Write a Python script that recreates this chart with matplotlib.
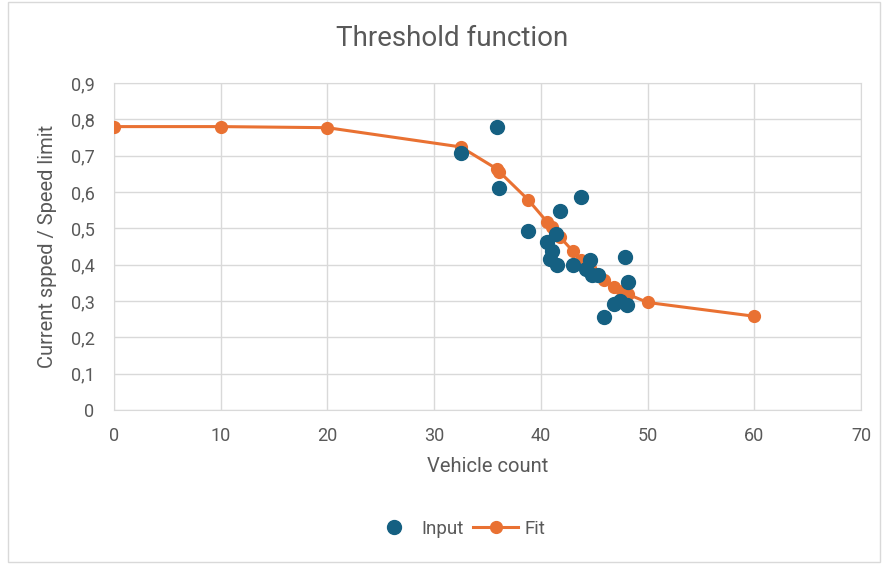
import matplotlib.pyplot as plt
from matplotlib.patches import Rectangle

# data
input_x = [35.9, 32.5, 36.1, 43.8, 41.8, 38.8, 41.4, 40.6, 41.0, 40.9, 41.5,
           43.0, 44.6, 44.2, 44.8, 45.4, 47.9, 48.2, 46.9, 47.4, 48.05, 45.9]
input_y = [0.780, 0.708, 0.610, 0.586, 0.549, 0.492, 0.485, 0.462, 0.437, 0.415, 0.400,
           0.400, 0.412, 0.389, 0.371, 0.371, 0.420, 0.353, 0.293, 0.301, 0.289, 0.255]

fit_x = [0, 10, 20, 32.5, 35.9, 36.1, 38.8, 40.6, 41.0, 41.8, 43.0, 43.8,
         44.6, 45.4, 45.9, 46.9, 47.6, 48.2, 50, 60]
fit_y = [0.780, 0.780, 0.777, 0.724, 0.663, 0.656, 0.579, 0.517, 0.505, 0.476, 0.437, 0.414,
         0.392, 0.372, 0.358, 0.339, 0.328, 0.318, 0.296, 0.258]

x_ticks = [0, 10, 20, 30, 40, 50, 60, 70]
y_ticks = [0, 0.1, 0.2, 0.3, 0.4, 0.5, 0.6, 0.7, 0.8, 0.9]

text_color = "#595959"
grid_color = "#D9D9D9"
blue = "#156082"
orange = "#E97132"

plt.rcParams["font.family"] = ["Roboto", "DejaVu Sans"]

fig = plt.figure(figsize=(8.84, 5.64), dpi=100)
fig.patches.append(Rectangle((8 / 884, 2 / 564), 872 / 884, 560 / 564,
                             transform=fig.transFigure, fill=False,
                             edgecolor=grid_color, linewidth=1))

ax = fig.add_axes([114 / 884, 154 / 564, 747 / 884, 327 / 564])

ax.plot(fit_x, fit_y, color=orange, linewidth=2.2, marker="o", markersize=8.5,
        label="Fit", zorder=3)
ax.plot(input_x, input_y, linestyle="none", color=blue, marker="o",
        markersize=10, label="Input", zorder=4)

ax.set_xlim(0, 70)
ax.set_ylim(0, 0.9)
ax.set_xticks(x_ticks)
ax.set_yticks(y_ticks)
ax.set_yticklabels([("%g" % v).replace(".", ",") for v in y_ticks])
ax.grid(True, color=grid_color, linewidth=1)
ax.set_axisbelow(True)
ax.tick_params(length=0, colors=text_color, labelsize=13)
ax.tick_params(axis="y", pad=14)
ax.tick_params(axis="x", pad=12)
for s in ax.spines.values():
    s.set_color(grid_color)

ax.set_xlabel("Vehicle count", color=text_color, fontsize=14.5, labelpad=9)
ax.set_ylabel("Current spped / Speed limit", color=text_color, fontsize=14.5, labelpad=10)
fig.text(452 / 884, 1 - 38 / 564, "Threshold function", ha="center", va="center",
         color=text_color, fontsize=20)

handles, labels = ax.get_legend_handles_labels()
fig.legend(handles[::-1], labels[::-1], loc="center", bbox_to_anchor=(458 / 884, 1 - 529 / 564),
           ncol=2, frameon=False, fontsize=13.5, labelcolor=text_color,
           handlelength=2.4, handletextpad=0.3, columnspacing=0.5)

plt.savefig("out.png", dpi=100)
